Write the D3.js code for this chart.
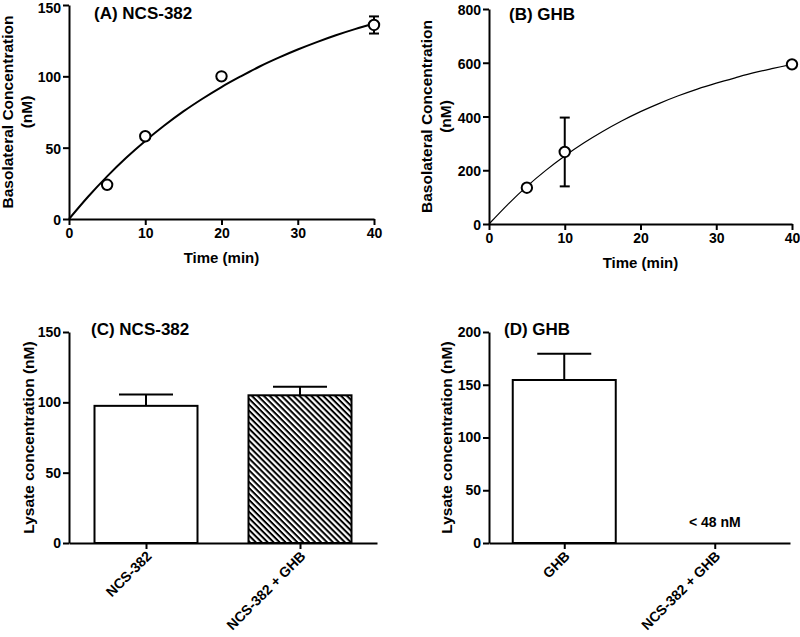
<!DOCTYPE html>
<html><head><meta charset="utf-8">
<script src="https://cdn.jsdelivr.net/npm/d3@7"></script>
<style>
body{margin:0;background:#fff;}
svg text{font-family:"Liberation Sans",Arial,sans-serif;font-weight:bold;fill:#000;}
</style></head>
<body><svg id="c" width="800" height="637"></svg>
<script>
// ---- data ----
const timeA = [5, 10, 20, 40];
const concA = [24, 58, 100, 136];
const errA = [0, 0, 0, 6];
const fitTimeA = [0, 2.5, 5, 7.5, 10, 12.5, 15, 17.5, 20, 22.5, 25, 27.5, 30, 32.5, 35, 37.5, 40];
const fitConcA = [0, 15.6, 29.9, 42.9, 54.7, 65.5, 75.4, 84.3, 92.5, 99.9, 106.9, 113.1, 118.8, 124.0, 128.8, 133.1, 137];
const timeB = [5, 10, 40];
const concB = [135, 268, 594];
const errB = [0, 128, 0];
const fitTimeB = [0, 2.5, 5, 7.5, 10, 12.5, 15, 17.5, 20, 22.5, 25, 27.5, 30, 32.5, 35, 37.5, 40];
const fitConcB = [0, 73.3, 140, 199.5, 253, 301, 344, 383, 418, 449, 477, 502, 524, 544, 563, 579, 594];
const xTicksTime = [0, 10, 20, 30, 40];
const yTicksA = [0, 50, 100, 150];
const yTicksB = [0, 200, 400, 600, 800];
const catsC = ["NCS-382", "NCS-382 + GHB"];
const valsC = [97.5, 105];
const errC = [8, 6];
const yTicksC = [0, 50, 100, 150];
const catsD = ["GHB", "NCS-382 + GHB"];
const valsD = [154.5, null];
const errD = [25, null];
const noteD = "< 48 nM";
const yTicksD = [0, 50, 100, 150, 200];

const svg = d3.select("#c");
const defs = svg.append("defs");
const pat = defs.append("pattern").attr("id","hatch").attr("patternUnits","userSpaceOnUse")
  .attr("width",4.2).attr("height",4.2).attr("patternTransform","rotate(45)");
pat.append("rect").attr("width",4.2).attr("height",4.2).attr("fill","#fff");
pat.append("rect").attr("width",4.2).attr("height",2.0).attr("fill","#000");

function styleAxis(g){
  g.selectAll("path.domain").attr("stroke","#000").attr("stroke-width",2);
  g.selectAll(".tick line").attr("stroke","#000").attr("stroke-width",2);
  g.selectAll(".tick text").style("font-size","14px").style("font-family","'Liberation Sans',Arial,sans-serif").style("font-weight","bold");
}

function scatterPanel(o){
  const x = d3.scaleLinear().domain([0,40]).range(o.xr);
  const y = d3.scaleLinear().domain(o.yd).range(o.yr);
  const g = svg.append("g");
  const gx = g.append("g").attr("transform",`translate(0,${o.yr[0]})`)
    .call(d3.axisBottom(x).tickValues(xTicksTime).tickSize(6).tickSizeOuter(0).tickPadding(3));
  styleAxis(gx);
  const gy = g.append("g").attr("transform",`translate(${o.xr[0]},0)`)
    .call(d3.axisLeft(y).tickValues(o.yt).tickSize(6).tickSizeOuter(0).tickPadding(2));
  styleAxis(gy);
  gy.selectAll(".tick text").attr("dy","0.4em");
  // keep the topmost label inside the page
  gy.selectAll(".tick text").each(function(){
    const b = this.getBBox();
    const ty = +d3.select(this.parentNode).attr("transform").match(/,\s*([\d.\-]+)/)[1];
    if (ty + b.y < 0) d3.select(this).attr("y", -(ty + b.y) + (+d3.select(this).attr("y") || 0));
  });
  const line = d3.line().x((d,i)=>x(o.ft[i])).y(d=>y(d)).curve(d3.curveCatmullRom);
  g.append("path").datum(o.fc).attr("d",line).attr("fill","none").attr("stroke","#000").attr("stroke-width",o.lw);
  o.t.forEach((t,i)=>{
    if(o.e[i]>0){
      const cx=x(t), y1=y(o.c[i]+o.e[i]), y2=y(o.c[i]-o.e[i]);
      g.append("line").attr("x1",cx).attr("x2",cx).attr("y1",y1).attr("y2",y2).attr("stroke","#000").attr("stroke-width",2);
      [y1,y2].forEach(yy=>g.append("line").attr("x1",cx-5).attr("x2",cx+5).attr("y1",yy).attr("y2",yy).attr("stroke","#000").attr("stroke-width",2));
    }
  });
  g.selectAll("circle.pt").data(o.c).join("circle").attr("cx",(d,i)=>x(o.t[i])).attr("cy",d=>y(d))
    .attr("r",5.2).attr("fill","#fff").attr("stroke","#000").attr("stroke-width",2);
  g.append("text").attr("x",o.title[1]).attr("y",o.title[2]).style("font-size","17px").text(o.title[0]);
  g.append("text").attr("x",(o.xr[0]+o.xr[1])/2).attr("y",o.yr[0]+44).attr("text-anchor","middle").style("font-size","15px").text("Time (min)");
  const cy=(o.yr[0]+o.yr[1])/2;
  g.append("text").attr("transform",`translate(${o.lx},${cy}) rotate(-90)`).attr("text-anchor","middle").style("font-size","15.5px").text("Basolateral Concentration");
  g.append("text").attr("transform",`translate(${o.lx+19},${cy}) rotate(-90)`).attr("text-anchor","middle").style("font-size","15.5px").text("(nM)");
}

scatterPanel({xr:[69,374], yr:[219,5], yd:[0,150], yt:yTicksA, t:timeA, c:concA, e:errA, ft:fitTimeA, fc:fitConcA, lw:2,
  title:["(A) NCS-382",94,19], lx:13});
scatterPanel({xr:[489,792], yr:[224,9], yd:[0,800], yt:yTicksB, t:timeB, c:concB, e:errB, ft:fitTimeB, fc:fitConcB, lw:1.2,
  title:["(B) GHB",509,20], lx:432});

function barPanel(o){
  const x = d3.scalePoint().domain(o.cats).range(o.xr).padding(0.5);
  const y = d3.scaleLinear().domain(o.yd).range(o.yr);
  const g = svg.append("g");
  const bw = 103;
  o.vals.forEach((v,i)=>{
    if(v==null) return;
    const cx = x(o.cats[i]);
    const top = y(v), capY = y(v+o.err[i]);
    g.append("line").attr("x1",cx).attr("x2",cx).attr("y1",top).attr("y2",capY).attr("stroke","#000").attr("stroke-width",2);
    g.append("line").attr("x1",cx-27).attr("x2",cx+27).attr("y1",capY).attr("y2",capY).attr("stroke","#000").attr("stroke-width",2);
    g.append("rect").attr("x",cx-bw/2).attr("y",top).attr("width",bw).attr("height",y(0)-top)
      .attr("fill",o.fills[i]).attr("stroke","#000").attr("stroke-width",2);
  });
  const gx = g.append("g").attr("transform",`translate(0,${o.yr[0]})`)
    .call(d3.axisBottom(x).tickSize(6).tickSizeOuter(0));
  styleAxis(gx);
  gx.selectAll(".tick text").attr("text-anchor","end").attr("dy",null).attr("y",0)
    .attr("transform","translate(6,14) rotate(-45)").style("font-size","14px");
  const gy = g.append("g").attr("transform",`translate(${o.xr[0]},0)`)
    .call(d3.axisLeft(y).tickValues(o.yt).tickSize(6).tickSizeOuter(0).tickPadding(2));
  styleAxis(gy);
  g.append("text").attr("x",o.title[1]).attr("y",o.title[2]).style("font-size","17px").text(o.title[0]);
  const cy=(o.yr[0]+o.yr[1])/2;
  g.append("text").attr("transform",`translate(${o.lx},${cy}) rotate(-90)`).attr("text-anchor","middle").style("font-size","15.5px").text("Lysate concentration (nM)");
  if(o.note){
    g.append("text").attr("x",x(o.cats[1])).attr("y",o.yr[0]-16).attr("text-anchor","middle").style("font-size","14px").text(o.note);
  }
}

barPanel({cats:catsC, vals:valsC, err:errC, fills:["#fff","url(#hatch)"], xr:[69,377], yr:[543,332], yd:[0,150], yt:yTicksC,
  title:["(C) NCS-382",91,335], lx:34});
barPanel({cats:catsD, vals:valsD, err:errD, fills:["#fff","#fff"], xr:[489,790], yr:[543,332], yd:[0,200], yt:yTicksD,
  title:["(D) GHB",504,335], lx:452, note:noteD});
</script></body></html>
